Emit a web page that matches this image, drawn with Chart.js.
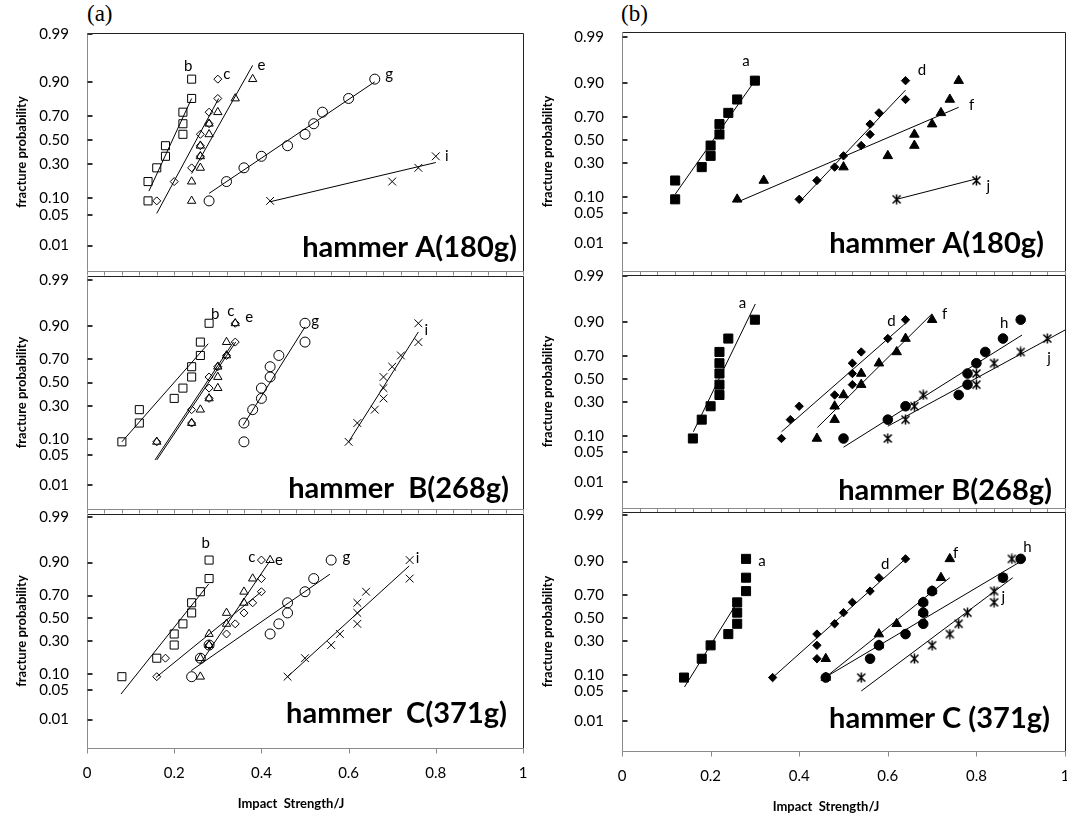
<!DOCTYPE html>
<html lang="en">
<head>
    <meta charset="UTF-8">
    <title>Fracture probability vs impact strength</title>
    <script src="https://cdn.jsdelivr.net/npm/chart.js"></script>
    <style>
        body {
            margin: 0;
            background: #fff;
            overflow: hidden;
        }
        #wrap {
            position: relative;
            width: 1067px;
            height: 814px;
        }
        #wrap canvas {
            position: absolute;
        }
        .tag {
            position: absolute;
            font-family: 'Liberation Serif', serif;
            font-size: 23px;
            line-height: 24px;
        }
    </style>
</head>
<body>
    <div id="wrap">
        <div class="tag" style="left:87px; top:2px;">(a)</div>
        <div class="tag" style="left:621px; top:2px;">(b)</div>
    </div>

    <script>
        // probability axis
        const probTicks = [0.01, 0.05, 0.10, 0.30, 0.50, 0.70, 0.90, 0.99];
        const probTickLabels = ['0.01', '0.05', '0.10', '0.30', '0.50', '0.70', '0.90', '0.99'];
        // strength axis
        const strengthTicks = [0, 0.2, 0.4, 0.6, 0.8, 1];
        const strengthTickLabels = ['0', '0.2', '0.4', '0.6', '0.8', '1'];
        // plotting positions (rank order, 10 specimens)
        const rankP = [0.09, 0.18, 0.27, 0.36, 0.45, 0.55, 0.64, 0.73, 0.82, 0.91];

        // (a) hammer A - impact strength (J), one value per rank
        const leftA_b = [0.14, 0.14, 0.16, 0.18, 0.18, 0.22, 0.22, 0.22, 0.24, 0.24];
        const leftA_c = [0.16, 0.20, 0.24, 0.26, 0.26, 0.26, 0.28, 0.28, 0.30, 0.30];
        const leftA_e = [0.24, 0.24, 0.26, 0.26, 0.26, 0.28, 0.28, 0.30, 0.34, 0.38];
        const leftA_g = [0.28, 0.32, 0.36, 0.40, 0.46, 0.50, 0.52, 0.54, 0.60, 0.66];
        const leftA_i = [0.42, 0.70, 0.76, 0.80];
        // fit lines: [strength, probability] end points
        const leftA_bFit = [[0.142, 0.13], [0.24, 0.82]];
        const leftA_cFit = [[0.16, 0.053], [0.302, 0.82]];
        const leftA_eFit = [[0.24, 0.23], [0.38, 0.95]];
        const leftA_gFit = [[0.28, 0.12], [0.66, 0.90]];
        const leftA_iFit = [[0.42, 0.087], [0.80, 0.31]];

        // (a) hammer B
        const leftB_b = [0.08, 0.12, 0.12, 0.20, 0.22, 0.24, 0.24, 0.26, 0.26, 0.28];
        const leftB_c = [0.16, 0.24, 0.24, 0.28, 0.28, 0.28, 0.30, 0.32, 0.34, 0.34];
        const leftB_e = [0.16, 0.24, 0.26, 0.28, 0.30, 0.30, 0.30, 0.32, 0.32, 0.34];
        const leftB_g = [0.36, 0.36, 0.38, 0.40, 0.40, 0.42, 0.42, 0.44, 0.50, 0.50];
        const leftB_i = [0.60, 0.62, 0.66, 0.68, 0.68, 0.68, 0.70, 0.72, 0.76, 0.76];
        const leftB_bFit = [[0.08, 0.09], [0.278, 0.81]];
        const leftB_cFit = [[0.156, 0.04], [0.336, 0.82]];
        const leftB_eFit = [[0.160, 0.04], [0.341, 0.82]];
        const leftB_gFit = [[0.358, 0.166], [0.50, 0.896]];
        const leftB_iFit = [[0.60, 0.09], [0.76, 0.874]];

        // (a) hammer C
        const leftC_b = [0.08, 0.16, 0.20, 0.20, 0.22, 0.24, 0.24, 0.26, 0.28, 0.28];
        const leftC_c = [0.16, 0.18, 0.28, 0.32, 0.34, 0.36, 0.38, 0.40, 0.40, 0.40];
        const leftC_e = [0.26, 0.26, 0.28, 0.28, 0.32, 0.32, 0.36, 0.36, 0.38, 0.42];
        const leftC_g = [0.24, 0.26, 0.28, 0.42, 0.44, 0.46, 0.46, 0.50, 0.52, 0.56];
        const leftC_i = [0.46, 0.50, 0.56, 0.58, 0.62, 0.62, 0.62, 0.64, 0.74, 0.74];
        const leftC_bFit = [[0.078, 0.041], [0.279, 0.785]];
        const leftC_cFit = [[0.158, 0.087], [0.40, 0.73]];
        const leftC_eFit = [[0.259, 0.147], [0.42, 0.908]];
        const leftC_gFit = [[0.239, 0.115], [0.557, 0.845]];
        const leftC_iFit = [[0.46, 0.09], [0.739, 0.886]];

        // (b) hammer A
        const rightA_a = [0.12, 0.12, 0.18, 0.20, 0.20, 0.22, 0.22, 0.24, 0.26, 0.30];
        const rightA_d = [0.40, 0.44, 0.48, 0.50, 0.54, 0.56, 0.56, 0.58, 0.64, 0.64];
        const rightA_f = [0.26, 0.32, 0.50, 0.60, 0.66, 0.66, 0.70, 0.72, 0.74, 0.76];
        const rightA_j = [0.62, 0.80];
        const rightA_aFit = [[0.12, 0.11], [0.30, 0.91]];
        const rightA_dFit = [[0.40, 0.08], [0.64, 0.87]];
        const rightA_fFit = [[0.26, 0.08], [0.76, 0.77]];
        const rightA_jFit = [[0.62, 0.09], [0.80, 0.19]];

        // (b) hammer B
        const rightB_a = [0.16, 0.18, 0.20, 0.22, 0.22, 0.22, 0.22, 0.22, 0.24, 0.30];
        const rightB_d = [0.36, 0.38, 0.40, 0.48, 0.52, 0.52, 0.52, 0.54, 0.60, 0.64];
        const rightB_f = [0.44, 0.48, 0.48, 0.50, 0.54, 0.54, 0.58, 0.62, 0.64, 0.70];
        const rightB_h = [0.50, 0.60, 0.64, 0.76, 0.78, 0.78, 0.80, 0.82, 0.86, 0.90];
        const rightB_j = [0.60, 0.64, 0.66, 0.68, 0.80, 0.80, 0.84, 0.90, 0.96];
        const rightB_aFit = [[0.161, 0.117], [0.301, 0.955]];
        const rightB_dFit = [[0.36, 0.117], [0.64, 0.896]];
        const rightB_fFit = [[0.441, 0.137], [0.70, 0.93]];
        const rightB_hFit = [[0.50, 0.062], [0.903, 0.84]];
        const rightB_jFit = [[0.60, 0.144], [1.0, 0.866]];

        // (b) hammer C
        const rightC_a = [0.14, 0.18, 0.20, 0.24, 0.26, 0.26, 0.26, 0.28, 0.28, 0.28];
        const rightC_d = [0.34, 0.44, 0.44, 0.44, 0.48, 0.50, 0.52, 0.56, 0.58, 0.64];
        const rightC_f = [0.46, 0.46, 0.58, 0.58, 0.62, 0.68, 0.68, 0.70, 0.72, 0.74];
        const rightC_h = [0.46, 0.56, 0.58, 0.64, 0.68, 0.68, 0.68, 0.70, 0.86, 0.90];
        const rightC_j = [0.54, 0.66, 0.70, 0.74, 0.76, 0.78, 0.84, 0.84, 0.86, 0.88];
        const rightC_aFit = [[0.141, 0.06], [0.26, 0.64]];
        const rightC_dFit = [[0.34, 0.09], [0.64, 0.91]];
        const rightC_fFit = [[0.46, 0.092], [0.74, 0.82]];
        const rightC_hFit = [[0.46, 0.092], [0.90, 0.90]];
        const rightC_jFit = [[0.54, 0.05], [0.882, 0.82]];

        // inverse normal cdf (Acklam) - the probability axis is a normal probability scale
        function probit(p) {
            const a = [-3.969683028665376e+01, 2.209460984245205e+02, -2.759285104469687e+02, 1.383577518672690e+02, -3.066479806614716e+01, 2.506628277459239e+00];
            const b = [-5.447609879822406e+01, 1.615858368580409e+02, -1.556989798598866e+02, 6.680131188771972e+01, -1.328068155288572e+01];
            const c = [-7.784894002430293e-03, -3.223964580411365e-01, -2.400758277161838e+00, -2.549732539343734e+00, 4.374664141464968e+00, 2.938163982698783e+00];
            const d = [7.784695709041462e-03, 3.224671290700398e-01, 2.445134137142996e+00, 3.754408661907416e+00];
            const lo = 0.02425;
            let q, r;
            if (p < lo) {
                q = Math.sqrt(-2 * Math.log(p));
                return (((((c[0] * q + c[1]) * q + c[2]) * q + c[3]) * q + c[4]) * q + c[5]) / ((((d[0] * q + d[1]) * q + d[2]) * q + d[3]) * q + 1);
            }
            if (p > 1 - lo) {
                q = Math.sqrt(-2 * Math.log(1 - p));
                return -(((((c[0] * q + c[1]) * q + c[2]) * q + c[3]) * q + c[4]) * q + c[5]) / ((((d[0] * q + d[1]) * q + d[2]) * q + d[3]) * q + 1);
            }
            q = p - 0.5;
            r = q * q;
            return (((((a[0] * r + a[1]) * r + a[2]) * r + a[3]) * r + a[4]) * r + a[5]) * q / (((((b[0] * r + b[1]) * r + b[2]) * r + b[3]) * r + b[4]) * r + 1);
        }

        // asterisk marker (x with a vertical bar)
        function asterisk(size) {
            const c = document.createElement('canvas');
            c.width = size;
            c.height = size;
            const g = c.getContext('2d');
            const m = size / 2, r = size / 2 - 0.5, k = r * 0.8;
            g.strokeStyle = '#000';
            g.lineWidth = 1.5;
            g.beginPath();
            g.moveTo(m - k, m - k); g.lineTo(m + k, m + k);
            g.moveTo(m + k, m - k); g.lineTo(m - k, m + k);
            g.moveTo(m, m - r); g.lineTo(m, m + r);
            g.stroke();
            return c;
        }

        const markerStyles = {
            b: { pointStyle: 'rect', radius: 5.7, fill: false },
            c: { pointStyle: 'rectRot', radius: 4, fill: false },
            e: { pointStyle: 'triangle', radius: 4.8, fill: false },
            g: { pointStyle: 'circle', radius: 5, fill: false },
            i: { pointStyle: 'crossRot', radius: 5.5, fill: false },
            a: { pointStyle: 'rect', radius: 6.4, fill: true },
            d: { pointStyle: 'rectRot', radius: 4.2, fill: true },
            f: { pointStyle: 'triangle', radius: 5.5, fill: true },
            h: { pointStyle: 'circle', radius: 4.8, fill: true },
            j: { pointStyle: asterisk(11), radius: 5, fill: false }
        };

        const panels = [
            { col: 0, top: 33, bottom: 271, zMin: -2.885, zMax: 2.357, last: false,
              hammer: 'hammer A(180g)', hx: -6, hy: -14,
              series: [['b', leftA_b, leftA_bFit], ['c', leftA_c, leftA_cFit], ['e', leftA_e, leftA_eFit], ['g', leftA_g, leftA_gFit], ['i', leftA_i, leftA_iFit]],
              letters: [['b', 0.232, 0.947], ['c', 0.321, 0.927], ['e', 0.40, 0.95], ['g', 0.693, 0.927], ['i', 0.825, 0.365]] },
            { col: 0, top: 275.5, bottom: 509, zMin: -2.86, zMax: 2.41, last: false,
              hammer: 'hammer  B(268g)', hx: -14, hy: -11,
              series: [['b', leftB_b, leftB_bFit], ['c', leftB_c, leftB_cFit], ['e', leftB_e, leftB_eFit], ['g', leftB_g, leftB_gFit], ['i', leftB_i, leftB_iFit]],
              letters: [['b', 0.294, 0.94], ['c', 0.33, 0.947], ['e', 0.372, 0.93], ['g', 0.523, 0.917], ['i', 0.778, 0.884]] },
            { col: 0, top: 514, bottom: 748, zMin: -2.98, zMax: 2.40, last: true,
              hammer: 'hammer  C(371g)', hx: -16, hy: -25,
              series: [['b', leftC_b, leftC_bFit], ['c', leftC_c, leftC_cFit], ['e', leftC_e, leftC_eFit], ['g', leftC_g, leftC_gFit], ['i', leftC_i, leftC_iFit]],
              letters: [['b', 0.272, 0.958], ['c', 0.378, 0.92], ['e', 0.44, 0.91], ['g', 0.595, 0.92], ['i', 0.758, 0.916]] },
            { col: 1, top: 32, bottom: 271, zMin: -2.96, zMax: 2.44, last: false,
              hammer: 'hammer A(180g)', hx: -21, hy: -18,
              series: [['a', rightA_a, rightA_aFit], ['d', rightA_d, rightA_dFit], ['f', rightA_f, rightA_fFit], ['j', rightA_j, rightA_jFit]],
              letters: [['a', 0.28, 0.962], ['d', 0.677, 0.942], ['f', 0.789, 0.786], ['j', 0.827, 0.146]] },
            { col: 1, top: 275, bottom: 508, zMin: -2.91, zMax: 2.35, last: false,
              hammer: 'hammer B(268g)', hx: -13, hy: -8,
              series: [['a', rightB_a, rightB_aFit], ['d', rightB_d, rightB_dFit], ['f', rightB_f, rightB_fFit], ['h', rightB_h, rightB_hFit], ['j', rightB_j, rightB_jFit]],
              letters: [['a', 0.272, 0.956], ['d', 0.608, 0.906], ['f', 0.728, 0.93], ['h', 0.863, 0.898], ['j', 0.964, 0.68]] },
            { col: 1, top: 512, bottom: 751, zMin: -3.0, zMax: 2.40, last: true,
              hammer: 'hammer C (371g)', hx: -15, hy: -23,
              series: [['a', rightC_a, rightC_aFit], ['d', rightC_d, rightC_dFit], ['f', rightC_f, rightC_fFit], ['h', rightC_h, rightC_hFit], ['j', rightC_j, rightC_jFit]],
              letters: [['a', 0.316, 0.90], ['d', 0.594, 0.89], ['f', 0.753, 0.93], ['h', 0.915, 0.946], ['j', 0.861, 0.685]] }
        ];

        const textFont = 'Lato, "Open Sans", sans-serif';

        function crisp(v) {
            return Math.round(v) + 0.5;
        }

        // frame, inner tick marks, series letters and the hammer caption
        const panelDecor = {
            id: 'panelDecor',
            afterDatasetsDraw(chart, args, opts) {
                const p = opts.panel;
                const { ctx, chartArea: a, scales: { x, y } } = chart;
                const L = crisp(a.left), R = crisp(a.right), T = crisp(a.top), B = crisp(a.bottom);
                ctx.save();
                ctx.lineWidth = 1;

                ctx.strokeStyle = '#222';
                ctx.beginPath();
                ctx.moveTo(L, T); ctx.lineTo(R, T); ctx.lineTo(R, B);
                ctx.stroke();

                ctx.strokeStyle = '#8a8a8a';
                ctx.beginPath();
                ctx.moveTo(L, T); ctx.lineTo(L, B); ctx.lineTo(R, B);
                ctx.stroke();

                // x tick marks hanging below the axis
                ctx.beginPath();
                const step = p.last ? 0.2 : 0.04;
                for (let k = 0; k * step <= 1.0001; k++) {
                    const px = crisp(x.getPixelForValue(k * step));
                    ctx.moveTo(px, B);
                    ctx.lineTo(px, B + (p.last ? 5 : 4));
                }
                ctx.stroke();

                // y tick marks inside the plot
                ctx.strokeStyle = '#333';
                ctx.lineWidth = 2;
                ctx.beginPath();
                probTicks.forEach(v => {
                    const py = Math.round(y.getPixelForValue(probit(v)));
                    ctx.moveTo(L, py);
                    ctx.lineTo(L + 5, py);
                });
                ctx.stroke();

                ctx.fillStyle = '#000';
                ctx.font = '15px ' + textFont;
                ctx.textAlign = 'center';
                ctx.textBaseline = 'middle';
                p.letters.forEach(([t, sx, sp]) => {
                    ctx.fillText(t, x.getPixelForValue(sx), y.getPixelForValue(probit(sp)));
                });

                ctx.font = 'bold 29px ' + textFont;
                ctx.textAlign = 'right';
                ctx.textBaseline = 'alphabetic';
                ctx.fillText(p.hammer, a.right + p.hx, a.bottom + p.hy);

                if (p.last) {
                    ctx.font = 'bold 13px ' + textFont;
                    ctx.textAlign = 'center';
                    ctx.textBaseline = 'middle';
                    ctx.fillText('Impact  Strength/J', a.left + 204, a.bottom + 56);
                }
                ctx.restore();
            }
        };

        const wrap = document.getElementById('wrap');

        panels.forEach(p => {
            const padTop = 20;
            const axisH = p.last ? 814 - p.bottom : 0;
            const padBottom = p.last ? 0 : 10;
            const cw = p.col === 0 ? 535 : 545;
            const ch = padTop + (p.bottom - p.top) + axisH + padBottom;

            const canvas = document.createElement('canvas');
            canvas.width = cw;
            canvas.height = ch;
            canvas.style.left = (p.col === 0 ? 0 : 535) + 'px';
            canvas.style.top = (p.top - padTop) + 'px';
            canvas.style.width = cw + 'px';
            canvas.style.height = ch + 'px';
            wrap.appendChild(canvas);

            const datasets = [];
            p.series.forEach(([key, xs, fit]) => {
                const m = markerStyles[key];
                datasets.push({
                    label: key,
                    data: xs.map((v, i) => ({ x: v, y: probit(rankP[i]) })),
                    showLine: false,
                    pointStyle: m.pointStyle,
                    pointRadius: m.radius,
                    pointBackgroundColor: m.fill ? '#000' : 'rgba(0,0,0,0)',
                    pointBorderColor: '#000',
                    pointBorderWidth: 1
                });
                datasets.push({
                    label: key + ' fit',
                    data: fit.map(([sx, sp]) => ({ x: sx, y: probit(sp) })),
                    showLine: true,
                    borderColor: '#000',
                    borderWidth: 1,
                    pointRadius: 0
                });
            });

            new Chart(canvas, {
                type: 'scatter',
                data: { datasets },
                plugins: [panelDecor],
                options: {
                    responsive: false,
                    animation: false,
                    events: [],
                    layout: {
                        padding: { top: padTop, bottom: padBottom, left: 0, right: p.col === 0 ? 12 : 15 }
                    },
                    plugins: {
                        legend: { display: false },
                        tooltip: { enabled: false },
                        panelDecor: { panel: p }
                    },
                    scales: {
                        x: {
                            type: 'linear',
                            min: 0,
                            max: 1,
                            display: p.last,
                            border: { display: false },
                            grid: { drawOnChartArea: false, drawTicks: true, tickLength: 16, color: 'rgba(0,0,0,0)' },
                            afterBuildTicks(s) {
                                s.ticks = strengthTicks.map(v => ({ value: v }));
                            },
                            ticks: {
                                padding: 0,
                                maxRotation: 0,
                                color: '#000',
                                font: { family: textFont, size: 15 },
                                callback: (v, i) => strengthTickLabels[i]
                            },
                            afterFit(s) { s.height = axisH; }
                        },
                        y: {
                            type: 'linear',
                            min: p.zMin,
                            max: p.zMax,
                            border: { display: false },
                            grid: { drawOnChartArea: false, drawTicks: true, tickLength: 18, color: 'rgba(0,0,0,0)' },
                            afterBuildTicks(s) {
                                s.ticks = probTicks.map(v => ({ value: probit(v) }));
                            },
                            ticks: {
                                autoSkip: false,
                                padding: 0,
                                color: '#000',
                                font: { family: textFont, size: 15 },
                                callback: (v, i) => probTickLabels[i]
                            },
                            title: {
                                display: true,
                                text: 'fracture probability',
                                color: '#000',
                                font: { family: textFont, size: 13, weight: 'bold' },
                                padding: { top: p.col === 0 ? 14 : 5, bottom: 0 }
                            },
                            afterFit(s) { s.width = 87; }
                        }
                    }
                }
            });
        });
    </script>
</body>
</html>
